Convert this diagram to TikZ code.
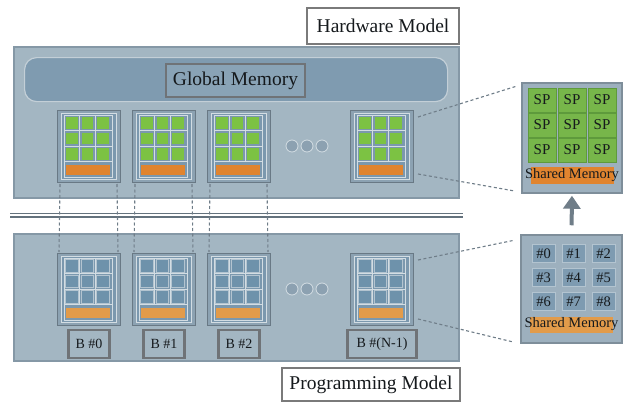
\documentclass[tikz,border=0pt]{standalone}
\usepackage{fontspec}
\setmainfont{Liberation Serif}
\usetikzlibrary{calc,arrows.meta}
\definecolor{panel}{HTML}{A3B6C2}
\definecolor{panelborder}{HTML}{8598A6}
\definecolor{gmem}{HTML}{7F9BB0}
\definecolor{gmemborder}{HTML}{C3CFD7}
\definecolor{labelborder}{HTML}{6F7377}
\definecolor{blockouter}{HTML}{8CA2B2}
\definecolor{blockinner}{HTML}{7B98AE}
\definecolor{gridc}{HTML}{D3DDE3}
\definecolor{grn}{HTML}{7CC243}
\definecolor{orangeA}{HTML}{E0842F}
\definecolor{orangeB}{HTML}{E29B4A}
\definecolor{bcell}{HTML}{6E92AB}
\definecolor{bcellborder}{HTML}{B3C4D0}
\definecolor{dashc}{HTML}{6F7D88}
\definecolor{spgreen}{HTML}{77B64A}
\definecolor{spborder}{HTML}{5E9A3C}
\definecolor{zoomfill}{HTML}{9DB0BE}
\definecolor{zoomborder}{HTML}{7E8E9A}
\definecolor{idfill}{HTML}{7E9BB1}
\definecolor{txt}{HTML}{15191C}
\definecolor{dotfill}{HTML}{8CA1B1}
\tikzset{
  panelbox/.style={draw=panelborder, line width=1.5pt, fill=panel, inner sep=0pt, anchor=north west},
  gmembox/.style={draw=gmemborder, line width=1.2pt, fill=gmem, rounded corners=12pt, inner sep=0pt, anchor=north west},
  gmlabel/.style={draw=labelborder, line width=2.5pt, fill=gmem!92!white, inner sep=0pt, text=txt, font=\fontsize{19.5}{21}\selectfont},
  titlebox/.style={draw=black!52, line width=2.5pt, fill=white, inner sep=0pt, text=txt, font=\fontsize{19.5}{21}\selectfont},
  blockbox/.style={draw=black!25!blockouter, line width=1pt, fill=blockouter, minimum width=63pt, minimum height=72pt, inner sep=0pt},
  blockin/.style={fill=blockinner, draw=gridc, line width=0.8pt},
  gridl/.style={draw=gridc, line width=1pt},
  blabel/.style={draw=labelborder, line width=2.2pt, fill=panel, inner sep=0pt, minimum height=28pt, text=txt, font=\fontsize{14}{15}\selectfont, anchor=north},
  zoombox/.style={draw=zoomborder, line width=1.5pt, fill=zoomfill, inner sep=0pt},
  spcell/.style={draw=spborder, line width=1pt, fill=spgreen, minimum width=28pt, minimum height=24pt, inner sep=0pt, text=txt, font=\fontsize{15}{16}\selectfont},
  idcell/.style={draw=bcellborder, line width=1pt, fill=idfill, minimum width=23pt, minimum height=18pt, inner sep=0pt, text=txt, font=\fontsize{14.5}{15}\selectfont},
  smbar/.style={inner sep=0pt, minimum width=83pt},
  smtext/.style={inner sep=0pt, text=txt, font=\fontsize{14.5}{15}\selectfont},
  dashline/.style={draw=dashc, line width=1.1pt, dash pattern=on 3pt off 2.5pt},
  sepline/.style={draw=black!25!panelborder, line width=1.6pt},
  dotnode/.style={circle, fill=dotfill, draw=gridc, line width=0.8pt, minimum size=12pt, inner sep=0pt},
  uparrow/.style={draw=dashc, line width=4pt, -{Triangle[length=13pt,width=17pt]}},
}
\newcommand\hwblock[3]{%
  \node[blockbox, anchor=north west] (#1) at (#2,#3) {};
  \begin{scope}[shift={(#1.north west)}]
    \filldraw[blockin] (4,3) rectangle (59,69);
    \draw[gridl] (7,5) rectangle (55,67);
    \foreach \yy in {20.5,36,51.5} \draw[gridl] (7,\yy) -- (55,\yy);
    \foreach \xx in {22.5,38} \draw[gridl] (\xx,5) -- (\xx,51.5);
    \foreach \xx in {9,24.5,40} \foreach \yy in {7,22.5,38} \fill[grn] (\xx,\yy) rectangle ++(11.5,11.5);
    \fill[orangeA] (9,54.5) rectangle (53,65);
  \end{scope}}
\newcommand\pmblock[3]{%
  \node[blockbox, anchor=north west] (#1) at (#2,#3) {};
  \begin{scope}[shift={(#1.north west)}]
    \filldraw[blockin] (4,3) rectangle (59,69);
    \draw[gridl] (7,5) rectangle (55,67);
    \foreach \yy in {20.5,36,51.5} \draw[gridl] (7,\yy) -- (55,\yy);
    \foreach \xx in {22.5,38} \draw[gridl] (\xx,5) -- (\xx,51.5);
    \foreach \xx in {8.5,24,39.5} \foreach \yy in {6.5,22,37.5} \filldraw[fill=bcell, draw=bcellborder, line width=0.7pt] (\xx,\yy) rectangle ++(12.5,12.5);
    \fill[orangeB] (9,54.5) rectangle (53,65);
  \end{scope}}
\begin{document}
\begin{tikzpicture}[x=1pt,y=-1pt]
\useasboundingbox (0,0) rectangle (627,402);
\fill[white] (0,0) rectangle (627,402);
% panels
\node[panelbox, minimum width=445pt, minimum height=151pt] (hwpanel) at (13,46) {};
\node[panelbox, minimum width=445pt, minimum height=127pt] (pmpanel) at (13,233) {};
\draw[sepline] (10,213.5) -- (463,213.5);
\draw[sepline] (10,216.8) -- (463,216.8);
% global memory
\node[gmembox, minimum width=423pt, minimum height=44pt] (gmem) at (24,57) {};
\node[gmlabel, minimum width=139pt, minimum height=33pt] (gml) at (235.5,80.5) {Global Memory};
% blocks
\hwblock{t1}{57}{110}
\hwblock{t2}{132}{110}
\hwblock{t3}{207}{110}
\hwblock{t4}{350}{110}
\pmblock{b1}{57}{253}
\pmblock{b2}{132}{253}
\pmblock{b3}{207}{253}
\pmblock{b4}{350}{253}
% dots
\node[dotnode] (hd1) at (292,146) {};
\node[dotnode] (hd2) at (307,146) {};
\node[dotnode] (hd3) at (322,146) {};
\node[dotnode] (pd1) at (292,289) {};
\node[dotnode] (pd2) at (307,289) {};
\node[dotnode] (pd3) at (322,289) {};
% block labels
\node[blabel, minimum width=41pt] (lb1) at ($(b1.south)+(0,3)$) {B \#0};
\node[blabel, minimum width=41pt] (lb2) at ($(b2.south)+(0,3)$) {B \#1};
\node[blabel, minimum width=41pt] (lb3) at ($(b3.south)+(0,3)$) {B \#2};
\node[blabel, minimum width=69pt] (lb4) at ($(b4.south)+(0,3)$) {B \#(N-1)};
% vertical dashed links
\foreach \n in {1,2,3}{
  \draw[dashline] ($(t\n.south west)+(3,1)$) -- ($(b\n.north west)+(2,-1)$);
  \draw[dashline] ($(t\n.south east)+(-4,1)$) -- ($(b\n.north east)+(-3,-1)$);
}
% zoom boxes
\node[zoombox, minimum width=100pt, minimum height=110pt] (rt) at (572,138) {};
\foreach \i/\xx/\yy in {1/542/100,2/572/100,3/602/100,4/542/125,5/572/125,6/602/125,7/542/150,8/572/150,9/602/150}
  \node[spcell] (sp\i) at (\xx,\yy) {SP};
\node[smbar, fill=orangeA, minimum height=17pt] (rtbar) at (572,175.5) {};
\node[smtext] (rttext) at (572,175) {Shared Memory};
\node[zoombox, minimum width=101pt, minimum height=108pt] (rb) at (571.5,289) {};
\foreach \i/\xx/\yy in {0/543.5/253.5,1/573.5/253.5,2/603.5/253.5,3/543.5/277.5,4/573.5/277.5,5/603.5/277.5,6/543.5/301.5,7/573.5/301.5,8/603.5/301.5}
  \node[idcell] (id\i) at (\xx,\yy) {\#\i};
\node[smbar, fill=orangeB, minimum height=16pt] (rbbar) at (571.5,325) {};
\node[smtext] (rbtext) at (571.5,324.5) {Shared Memory};
% zoom dashed lines
\draw[dashline] ($(t4.north east)+(4,7)$) -- ($(rt.north west)+(-5,4)$);
\draw[dashline] ($(t4.south east)+(4,-9)$) -- ($(rt.south west)+(-8,-3)$);
\draw[dashline] ($(b4.north east)+(4,7)$) -- ($(rb.north west)+(-6,6)$);
\draw[dashline] ($(b4.south east)+(4,-7)$) -- ($(rb.south west)+(-8,-2)$);
% arrow
\draw[uparrow, shorten <=9pt, shorten >=2pt] (rb.north) -- (rt.south);
% titles
\node[titlebox, minimum width=152pt, minimum height=36pt] (hw) at (383,26) {Hardware Model};
\node[titlebox, minimum width=178pt, minimum height=33pt] (pm) at (371,384.5) {Programming Model};
\end{tikzpicture}
\end{document}
